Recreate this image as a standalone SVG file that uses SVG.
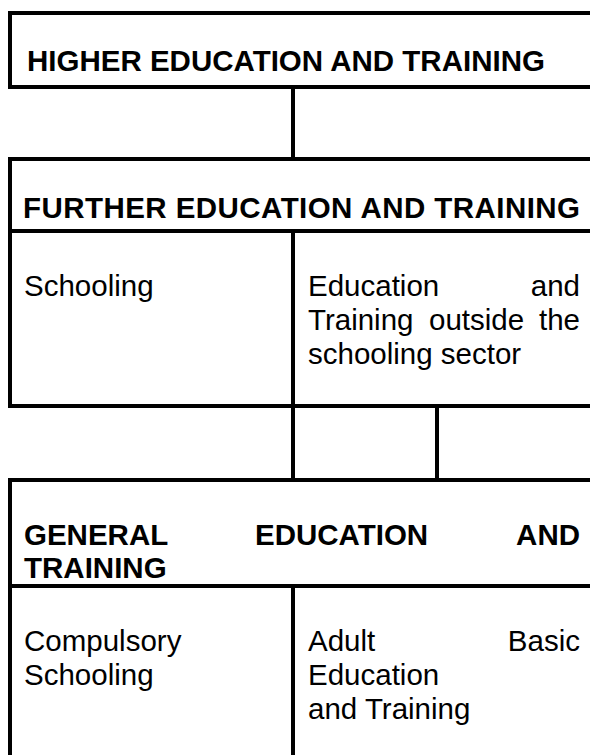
<svg xmlns="http://www.w3.org/2000/svg" width="590" height="755" viewBox="0 0 590 755">
  <style>
    .box { fill: none; stroke: #000; stroke-width: 4; }
    .rule { stroke: #000; stroke-width: 4; fill: none; }
    .head { font-family: "Liberation Sans", Arial, sans-serif; font-weight: bold; font-size: 29.5px; fill: #000; }
    .body { font-family: "Liberation Sans", Arial, sans-serif; font-size: 29.5px; fill: #000; }
  </style>
  <rect x="0" y="0" width="590" height="755" fill="#fff"/>

  <!-- links between the tiers -->
  <g id="connectors">
    <line class="rule" x1="293" y1="87" x2="293" y2="159"/>
    <line class="rule" x1="293" y1="406" x2="293" y2="480"/>
    <line class="rule" x1="437" y1="406" x2="437" y2="480"/>
  </g>

  <!-- top tier -->
  <g id="higher-education">
    <rect class="box" x="10" y="13" width="600" height="74"/>
    <text class="head" x="27" y="71">HIGHER EDUCATION AND TRAINING</text>
  </g>

  <!-- middle tier with two cells -->
  <g id="further-education">
    <rect class="box" x="10" y="159" width="600" height="247"/>
    <line class="rule" x1="10" y1="231" x2="610" y2="231"/>
    <line class="rule" x1="293" y1="231" x2="293" y2="406"/>
    <text class="head" x="23" y="218" textLength="557" lengthAdjust="spacing">FURTHER EDUCATION AND TRAINING</text>
    <text class="body" x="24" y="296">Schooling</text>
    <text class="body" y="296"><tspan x="308">Education</tspan><tspan x="580" text-anchor="end">and</tspan></text>
    <text class="body" y="330"><tspan x="308">Training</tspan><tspan x="429">outside</tspan><tspan x="580" text-anchor="end">the</tspan></text>
    <text class="body" x="308" y="364">schooling sector</text>
  </g>

  <!-- bottom tier with two cells -->
  <g id="general-education">
    <rect class="box" x="10" y="480" width="600" height="320"/>
    <line class="rule" x1="10" y1="586" x2="610" y2="586"/>
    <line class="rule" x1="293" y1="586" x2="293" y2="800"/>
    <text class="head" y="545"><tspan x="24">GENERAL</tspan><tspan x="255">EDUCATION</tspan><tspan x="580" text-anchor="end">AND</tspan></text>
    <text class="head" x="24" y="578">TRAINING</text>
    <text class="body" x="24" y="651">Compulsory</text>
    <text class="body" x="24" y="685">Schooling</text>
    <text class="body" y="651"><tspan x="308">Adult</tspan><tspan x="580" text-anchor="end">Basic</tspan></text>
    <text class="body" x="308" y="685">Education</text>
    <text class="body" x="308" y="719">and Training</text>
  </g>
</svg>
